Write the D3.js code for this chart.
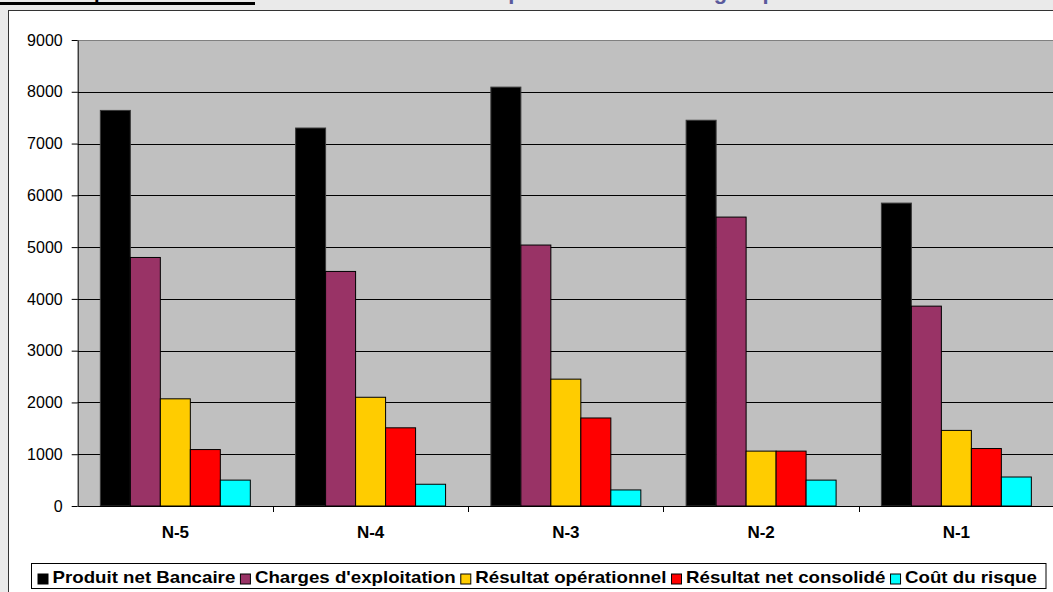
<!DOCTYPE html>
<html>
<head>
<meta charset="utf-8">
<script src="https://cdn.jsdelivr.net/npm/d3@7"></script>
<style>
  html, body { margin: 0; padding: 0; background: #eaeaea; }
  svg { display: block; }
  text { font-family: "Liberation Sans", Arial, sans-serif; }
</style>
</head>
<body>
<svg id="chart" width="1053" height="592"></svg>
<script>
// Agrégats annuels (en millions)
const categories = ["N-5", "N-4", "N-3", "N-2", "N-1"];
const seriesNames = [
  "Produit net Bancaire",
  "Charges d'exploitation",
  "Résultat opérationnel",
  "Résultat net consolidé",
  "Coût du risque"
];
const produitNetBancaire   = [7640, 7300, 8090, 7450, 5850];
const chargesExploitation  = [4800, 4530, 5040, 5580, 3860];
const resultatOperationnel = [2070, 2100, 2450, 1060, 1460];
const resultatNetConsolide = [1090, 1510, 1700, 1060, 1110];
const coutDuRisque         = [500, 420, 310, 500, 560];
const yTicks = [0, 1000, 2000, 3000, 4000, 5000, 6000, 7000, 8000, 9000];

const seriesValues = [produitNetBancaire, chargesExploitation, resultatOperationnel,
                      resultatNetConsolide, coutDuRisque];
const colors = ["#000000", "#993366", "#ffcc00", "#ff0000", "#00ffff"];

const svg = d3.select("#chart");
const W = 1053, H = 592;

// page background
svg.append("rect").attr("width", W).attr("height", H).attr("fill", "#eaeaea");

// heading strip (mostly above the visible area)
const head = svg.append("g");
head.append("text")
  .attr("x", 4).attr("y", -2)
  .attr("font-size", 20).attr("font-weight", "bold").attr("fill", "#000")
  .text("Données publiées");
head.append("rect").attr("x", 0).attr("y", 2).attr("width", 255).attr("height", 3).attr("fill", "#000");

const title = head.append("text")
  .attr("y", -1)
  .attr("font-family", "DejaVu Sans, Verdana, sans-serif")
  .attr("font-size", 22).attr("font-weight", "bold").attr("fill", "#5a5a9c")
  .text("Comptes consolidés du groupe");
{
  const p = title.node().getExtentOfChar(3);
  title.attr("x", 515 - (p.x + p.width / 2));
}

// chart frame
svg.append("rect")
  .attr("x", 8.5).attr("y", 10.5).attr("width", 1100).attr("height", 700)
  .attr("fill", "#ffffff").attr("stroke", "#333").attr("stroke-width", 1);

// plot geometry
const plot = { left: 77.7, right: 1054, top: 40, bottom: 506 };

const y = d3.scaleLinear().domain([0, 9000]).range([plot.bottom, plot.top]);
const x0 = d3.scaleBand().domain(categories).range([plot.left, plot.right]).padding(0);
const x1 = d3.scaleBand().domain(seriesNames).range([0, x0.bandwidth()])
  .paddingInner(0).paddingOuter(0.755);

// plot area background
svg.append("rect")
  .attr("x", plot.left).attr("y", plot.top)
  .attr("width", plot.right - plot.left).attr("height", plot.bottom - plot.top)
  .attr("fill", "#c0c0c0");

// horizontal grid lines
svg.append("g")
  .selectAll("line")
  .data(yTicks.filter(v => v > 0))
  .join("line")
  .attr("x1", plot.left).attr("x2", plot.right)
  .attr("y1", d => Math.round(y(d)) + 0.5).attr("y2", d => Math.round(y(d)) + 0.5)
  .attr("stroke", d => d === 9000 ? "#808080" : "#000")
  .attr("stroke-width", 1);

// bars
const groups = svg.append("g")
  .selectAll("g")
  .data(categories)
  .join("g")
  .attr("transform", d => `translate(${x0(d)},0)`);

groups.selectAll("rect")
  .data((c, ci) => seriesNames.map((s, si) => ({ s, si, v: seriesValues[si][ci] })))
  .join("rect")
  .attr("x", d => x1(d.s))
  .attr("y", d => y(d.v))
  .attr("width", x1.bandwidth())
  .attr("height", d => y(0) - y(d.v))
  .attr("fill", d => colors[d.si])
  .attr("stroke", d => d.si === 0 ? "#3a3a3a" : "#000")
  .attr("stroke-width", 1);

// y axis
const yAxis = svg.append("g")
  .attr("transform", `translate(${plot.left},0)`)
  .call(d3.axisLeft(y).tickValues(yTicks).tickFormat(d3.format("d"))
    .tickSize(6).tickSizeOuter(0).tickPadding(9));
yAxis.select(".domain").attr("stroke", "#000");
yAxis.selectAll(".tick line").attr("stroke", "#000");
yAxis.selectAll("text").attr("font-size", 16).attr("fill", "#000")
  .attr("font-family", "Liberation Sans, Arial, sans-serif");

// x axis with category labels
const xAxis = svg.append("g")
  .attr("transform", `translate(0,${plot.bottom})`)
  .call(d3.axisBottom(x0).tickSize(0).tickSizeOuter(0).tickPadding(20));
xAxis.select(".domain").attr("stroke", "#000");
xAxis.selectAll("text").attr("font-size", 17).attr("font-weight", "bold").attr("fill", "#000")
  .attr("font-family", "Liberation Sans, Arial, sans-serif");

// tick marks between categories
svg.append("g")
  .selectAll("line")
  .data(categories.slice(1))
  .join("line")
  .attr("x1", d => Math.round(x0(d)) + 0.5).attr("x2", d => Math.round(x0(d)) + 0.5)
  .attr("y1", plot.bottom).attr("y2", plot.bottom + 6)
  .attr("stroke", "#000");

// legend
const legend = svg.append("g");
legend.append("rect")
  .attr("x", 31.5).attr("y", 563.5).attr("width", 1014.5).attr("height", 25)
  .attr("fill", "#fff").attr("stroke", "#000");

const items = legend.selectAll("g")
  .data(seriesNames)
  .join("g");
items.append("rect")
  .attr("width", 10).attr("height", 10).attr("y", 574)
  .attr("fill", (d, i) => colors[i]).attr("stroke", "#000");
const labels = items.append("text")
  .attr("font-size", 16).attr("font-weight", "bold").attr("fill", "#000")
  .text(d => d);

// spread the entries across the box, stretching the labels slightly
const lens = labels.nodes().map(n => n.getComputedTextLength());
const startX = 38, endX = 1037, sqGap = 14.5, itemGap = 5;
const fixed = seriesNames.length * sqGap + (seriesNames.length - 1) * itemGap;
const sx = (endX - startX - fixed) / d3.sum(lens);
labels.attr("transform", `translate(${sqGap},583) scale(${sx},1)`);
let cx = startX;
items.each(function (d, i) {
  d3.select(this).attr("transform", `translate(${cx},0)`);
  cx += sqGap + lens[i] * sx + itemGap;
});
</script>
</body>
</html>
